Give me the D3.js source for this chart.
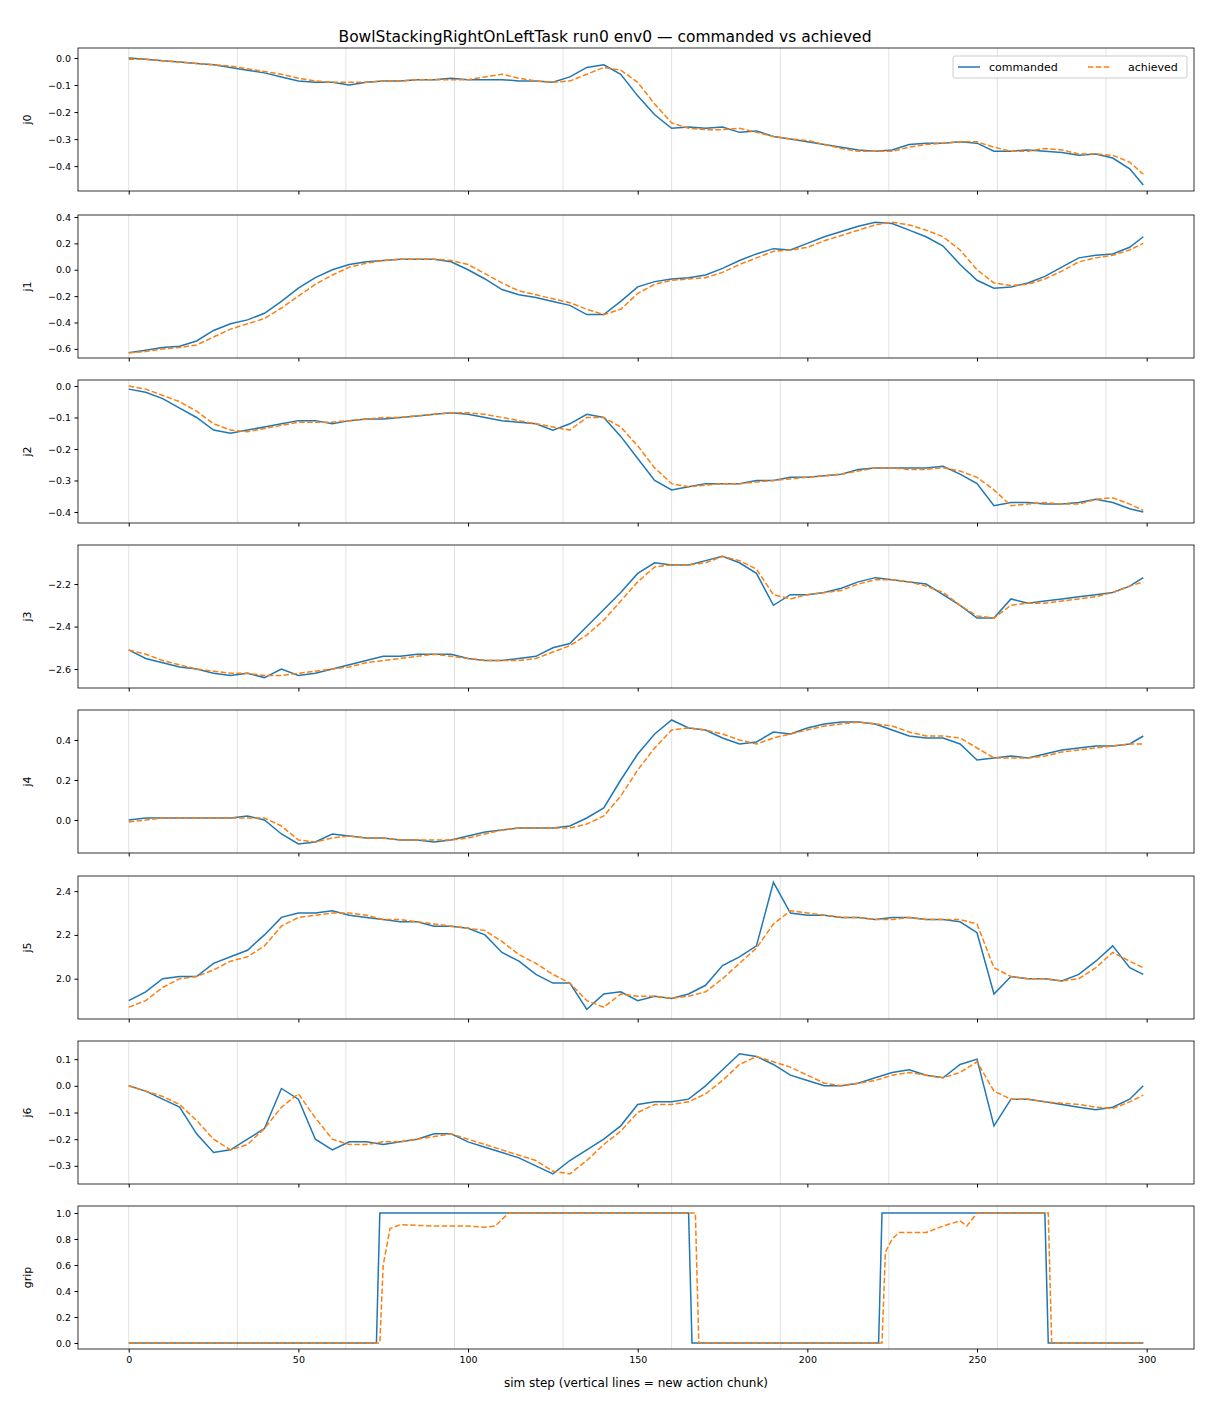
<!DOCTYPE html>
<html>
<head>
<meta charset="utf-8">
<script src="https://cdn.jsdelivr.net/npm/d3@7"></script>
<style>
  body { margin: 0; background: #fff; }
  text { font-family: "DejaVu Sans", sans-serif; }
</style>
</head>
<body>
<svg id="chart"></svg>
<script>
// sampled sim steps (every 5 steps) for the joint panels
let steps = [0,5,10,15,20,25,30,35,40,45,50,55,60,65,70,75,80,85,90,95,100,105,110,115,120,125,130,135,140,145,150,155,160,165,170,175,180,185,190,195,200,205,210,215,220,225,230,235,240,245,250,255,260,265,270,275,280,285,290,295,299];

let j0Cmd = [0,-0.005,-0.01,-0.015,-0.02,-0.025,-0.035,-0.045,-0.055,-0.07,-0.085,-0.09,-0.09,-0.1,-0.09,-0.085,-0.085,-0.08,-0.08,-0.075,-0.08,-0.08,-0.08,-0.085,-0.085,-0.09,-0.07,-0.035,-0.025,-0.06,-0.14,-0.21,-0.26,-0.255,-0.26,-0.255,-0.275,-0.27,-0.29,-0.3,-0.31,-0.32,-0.33,-0.34,-0.345,-0.34,-0.32,-0.315,-0.315,-0.31,-0.315,-0.345,-0.345,-0.34,-0.345,-0.35,-0.36,-0.355,-0.37,-0.41,-0.47];
let j0Ach = [-0.005,-0.005,-0.01,-0.015,-0.02,-0.025,-0.03,-0.04,-0.05,-0.06,-0.075,-0.085,-0.09,-0.09,-0.09,-0.085,-0.085,-0.08,-0.08,-0.08,-0.08,-0.07,-0.06,-0.075,-0.085,-0.09,-0.085,-0.06,-0.035,-0.045,-0.09,-0.17,-0.24,-0.26,-0.265,-0.265,-0.26,-0.275,-0.29,-0.3,-0.305,-0.32,-0.335,-0.345,-0.345,-0.345,-0.33,-0.32,-0.315,-0.31,-0.31,-0.33,-0.345,-0.345,-0.335,-0.34,-0.355,-0.355,-0.36,-0.385,-0.43];

let j1Cmd = [-0.63,-0.61,-0.59,-0.58,-0.54,-0.46,-0.41,-0.38,-0.33,-0.24,-0.14,-0.06,0,0.04,0.06,0.07,0.08,0.08,0.08,0.06,0,-0.07,-0.15,-0.19,-0.21,-0.24,-0.27,-0.34,-0.34,-0.24,-0.13,-0.09,-0.07,-0.06,-0.04,0.01,0.07,0.12,0.16,0.15,0.2,0.25,0.29,0.33,0.36,0.35,0.3,0.25,0.18,0.04,-0.08,-0.14,-0.13,-0.1,-0.05,0.02,0.09,0.11,0.12,0.17,0.25];
let j1Ach = [-0.63,-0.62,-0.6,-0.59,-0.57,-0.51,-0.45,-0.41,-0.37,-0.29,-0.2,-0.11,-0.04,0.02,0.05,0.07,0.08,0.08,0.08,0.07,0.04,-0.03,-0.1,-0.16,-0.19,-0.22,-0.25,-0.3,-0.34,-0.3,-0.18,-0.11,-0.08,-0.07,-0.06,-0.02,0.04,0.09,0.14,0.15,0.17,0.22,0.26,0.3,0.34,0.36,0.34,0.3,0.25,0.15,0,-0.1,-0.12,-0.11,-0.07,-0.01,0.06,0.09,0.11,0.15,0.2];

let j2Cmd = [-0.01,-0.02,-0.04,-0.07,-0.1,-0.14,-0.15,-0.14,-0.13,-0.12,-0.11,-0.11,-0.12,-0.11,-0.105,-0.105,-0.1,-0.095,-0.09,-0.085,-0.09,-0.1,-0.11,-0.115,-0.12,-0.14,-0.12,-0.09,-0.1,-0.16,-0.23,-0.3,-0.33,-0.32,-0.31,-0.31,-0.31,-0.3,-0.3,-0.29,-0.29,-0.285,-0.28,-0.265,-0.26,-0.26,-0.26,-0.26,-0.255,-0.28,-0.31,-0.38,-0.37,-0.37,-0.375,-0.375,-0.37,-0.36,-0.37,-0.39,-0.4];
let j2Ach = [0,-0.01,-0.03,-0.05,-0.08,-0.12,-0.14,-0.145,-0.135,-0.125,-0.115,-0.115,-0.115,-0.11,-0.105,-0.1,-0.1,-0.095,-0.09,-0.085,-0.085,-0.09,-0.1,-0.11,-0.12,-0.13,-0.14,-0.1,-0.1,-0.13,-0.19,-0.26,-0.31,-0.32,-0.315,-0.31,-0.31,-0.305,-0.3,-0.295,-0.29,-0.285,-0.28,-0.27,-0.26,-0.26,-0.265,-0.265,-0.26,-0.27,-0.29,-0.33,-0.38,-0.375,-0.37,-0.375,-0.375,-0.36,-0.355,-0.375,-0.395];

let j3Cmd = [-2.51,-2.55,-2.57,-2.59,-2.6,-2.62,-2.63,-2.62,-2.64,-2.6,-2.63,-2.62,-2.6,-2.58,-2.56,-2.54,-2.54,-2.53,-2.53,-2.53,-2.55,-2.56,-2.56,-2.55,-2.54,-2.5,-2.48,-2.4,-2.32,-2.24,-2.15,-2.1,-2.11,-2.11,-2.09,-2.07,-2.1,-2.15,-2.3,-2.25,-2.25,-2.24,-2.22,-2.19,-2.17,-2.18,-2.19,-2.2,-2.25,-2.3,-2.36,-2.36,-2.27,-2.29,-2.28,-2.27,-2.26,-2.25,-2.24,-2.21,-2.17];
let j3Ach = [-2.51,-2.53,-2.56,-2.58,-2.6,-2.61,-2.62,-2.62,-2.63,-2.63,-2.62,-2.61,-2.6,-2.59,-2.57,-2.56,-2.55,-2.54,-2.53,-2.54,-2.55,-2.56,-2.56,-2.56,-2.55,-2.52,-2.49,-2.44,-2.37,-2.28,-2.19,-2.12,-2.11,-2.11,-2.1,-2.07,-2.09,-2.13,-2.25,-2.27,-2.25,-2.24,-2.23,-2.2,-2.18,-2.18,-2.19,-2.21,-2.24,-2.3,-2.35,-2.36,-2.3,-2.29,-2.29,-2.28,-2.27,-2.26,-2.24,-2.21,-2.19];

let j4Cmd = [0,0.01,0.01,0.01,0.01,0.01,0.01,0.02,0,-0.07,-0.12,-0.11,-0.07,-0.08,-0.09,-0.09,-0.1,-0.1,-0.11,-0.1,-0.08,-0.06,-0.05,-0.04,-0.04,-0.04,-0.03,0.01,0.06,0.2,0.33,0.43,0.5,0.46,0.45,0.41,0.38,0.39,0.44,0.43,0.46,0.48,0.49,0.49,0.48,0.45,0.42,0.41,0.41,0.38,0.3,0.31,0.32,0.31,0.33,0.35,0.36,0.37,0.37,0.38,0.42];
let j4Ach = [-0.01,0,0.01,0.01,0.01,0.01,0.01,0.01,0.01,-0.03,-0.1,-0.11,-0.09,-0.08,-0.09,-0.09,-0.1,-0.1,-0.1,-0.1,-0.09,-0.07,-0.05,-0.04,-0.04,-0.04,-0.04,-0.02,0.02,0.12,0.25,0.36,0.45,0.46,0.45,0.43,0.4,0.38,0.41,0.43,0.45,0.47,0.48,0.49,0.48,0.47,0.44,0.42,0.42,0.41,0.36,0.31,0.31,0.31,0.32,0.34,0.35,0.36,0.37,0.38,0.38];

let j5Cmd = [1.9,1.94,2,2.01,2.01,2.07,2.1,2.13,2.2,2.28,2.3,2.3,2.31,2.29,2.28,2.27,2.26,2.26,2.24,2.24,2.23,2.2,2.12,2.08,2.02,1.98,1.98,1.86,1.93,1.94,1.9,1.92,1.91,1.93,1.97,2.06,2.1,2.15,2.44,2.3,2.29,2.29,2.28,2.28,2.27,2.28,2.28,2.27,2.27,2.26,2.21,1.93,2.01,2,2,1.99,2.02,2.08,2.15,2.05,2.02];
let j5Ach = [1.87,1.9,1.96,2,2.01,2.04,2.08,2.1,2.15,2.24,2.28,2.29,2.3,2.3,2.29,2.27,2.27,2.26,2.25,2.24,2.23,2.22,2.17,2.11,2.07,2.02,1.98,1.9,1.87,1.93,1.92,1.92,1.91,1.92,1.94,2,2.07,2.14,2.25,2.31,2.3,2.29,2.28,2.28,2.27,2.27,2.28,2.27,2.27,2.27,2.25,2.05,2.01,2,2,1.99,2,2.05,2.12,2.08,2.05];

let j6Cmd = [0,-0.02,-0.05,-0.08,-0.18,-0.25,-0.24,-0.2,-0.16,-0.01,-0.05,-0.2,-0.24,-0.21,-0.21,-0.22,-0.21,-0.2,-0.18,-0.18,-0.21,-0.23,-0.25,-0.27,-0.3,-0.33,-0.28,-0.24,-0.2,-0.15,-0.07,-0.06,-0.06,-0.05,0,0.06,0.12,0.11,0.08,0.04,0.02,0,0,0.01,0.03,0.05,0.06,0.04,0.03,0.08,0.1,-0.15,-0.05,-0.05,-0.06,-0.07,-0.08,-0.09,-0.08,-0.05,0];
let j6Ach = [0,-0.02,-0.04,-0.07,-0.13,-0.2,-0.24,-0.22,-0.16,-0.08,-0.03,-0.12,-0.2,-0.22,-0.22,-0.21,-0.21,-0.2,-0.19,-0.18,-0.2,-0.22,-0.24,-0.26,-0.28,-0.32,-0.33,-0.28,-0.22,-0.17,-0.1,-0.07,-0.07,-0.06,-0.03,0.02,0.08,0.11,0.09,0.07,0.04,0.01,0,0.01,0.02,0.04,0.05,0.04,0.03,0.05,0.09,-0.02,-0.05,-0.05,-0.06,-0.065,-0.07,-0.08,-0.085,-0.06,-0.035];

// gripper has its own steps (it is a step signal)
let gripCmdSteps = [0,73,74,165,166,221,222,270,271,299];
let gripCmd = [0,0,1,1,0,0,1,1,0,0];
let gripAchSteps = [0,74,75,77,80,90,100,105,108,110,112,167,168,222,223,225,227,235,240,245,247,250,271,272,299];
let gripAch = [0,0,0.6,0.88,0.91,0.9,0.9,0.89,0.9,0.95,1,1,0,0,0.7,0.8,0.85,0.85,0.9,0.94,0.9,1,1,0,0];

let panels = [
  {name: 'j0', xs: steps, cmd: j0Cmd, xa: steps, ach: j0Ach, dom: [-0.492, 0.037], ticks: [-0.4,-0.3,-0.2,-0.1,0]},
  {name: 'j1', xs: steps, cmd: j1Cmd, xa: steps, ach: j1Ach, dom: [-0.669, 0.415], ticks: [-0.6,-0.4,-0.2,0,0.2,0.4]},
  {name: 'j2', xs: steps, cmd: j2Cmd, xa: steps, ach: j2Ach, dom: [-0.435, 0.019], ticks: [-0.4,-0.3,-0.2,-0.1,0]},
  {name: 'j3', xs: steps, cmd: j3Cmd, xa: steps, ach: j3Ach, dom: [-2.689, -2.0165], ticks: [-2.6,-2.4,-2.2]},
  {name: 'j4', xs: steps, cmd: j4Cmd, xa: steps, ach: j4Ach, dom: [-0.165, 0.55], ticks: [0,0.2,0.4]},
  {name: 'j5', xs: steps, cmd: j5Cmd, xa: steps, ach: j5Ach, dom: [1.816, 2.469], ticks: [2.0,2.2,2.4]},
  {name: 'j6', xs: steps, cmd: j6Cmd, xa: steps, ach: j6Ach, dom: [-0.368, 0.168], ticks: [-0.3,-0.2,-0.1,0,0.1]},
  {name: 'grip', xs: gripCmdSteps, cmd: gripCmd, xa: gripAchSteps, ach: gripAch, dom: [-0.046, 1.054], ticks: [0,0.2,0.4,0.6,0.8,1.0]}
];
let chunkStarts = [0,32,64,96,128,160,192,224,256,288];
let xTicks = [0,50,100,150,200,250,300];

let width = 1210, height = 1408;
let left = 78, right = 1194;
let tops = [48,215,380,545,710,876,1041,1206];
let panelH = 143;

let svg = d3.select('#chart').attr('width', width).attr('height', height);

let x = d3.scaleLinear().domain([-14.95, 313.95]).range([left, right]);

svg.append('text')
  .attr('x', 605).attr('y', 42)
  .attr('text-anchor', 'middle')
  .attr('font-size', 15.5)
  .text('BowlStackingRightOnLeftTask run0 env0 \u2014 commanded vs achieved');

panels.forEach(function(p, i) {
  let top = tops[i];
  let y = d3.scaleLinear().domain(p.dom).range([top + panelH, top]);
  let g = svg.append('g');

  // action chunk boundaries
  g.selectAll('line.chunk')
    .data(chunkStarts)
    .enter()
    .append('line')
    .attr('x1', d => x(d)).attr('x2', d => x(d))
    .attr('y1', top).attr('y2', top + panelH)
    .attr('stroke', '#d9d9d9').attr('stroke-width', 0.8);

  let line = d3.line().x(d => x(d[0])).y(d => y(d[1]));

  g.append('path')
    .attr('d', line(p.xs.map((s, k) => [s, p.cmd[k]])))
    .attr('fill', 'none').attr('stroke', '#1f77b4').attr('stroke-width', 1.5);

  g.append('path')
    .attr('d', line(p.xa.map((s, k) => [s, p.ach[k]])))
    .attr('fill', 'none').attr('stroke', '#ff7f0e').attr('stroke-width', 1.5)
    .attr('stroke-dasharray', '5.5,2.4');

  let yAxis = d3.axisLeft(y).tickValues(p.ticks).tickFormat(d3.format('.1f')).tickSize(3.5).tickPadding(3.5);
  g.append('g').attr('transform', 'translate(' + left + ',0)').call(yAxis)
    .call(a => a.select('.domain').remove())
    .selectAll('text').attr('font-size', 9.5).attr('font-family', 'DejaVu Sans');

  let xAxis = d3.axisBottom(x).tickValues(xTicks).tickSize(3.5).tickPadding(3.5);
  if (i < panels.length - 1) xAxis.tickFormat('');
  g.append('g').attr('transform', 'translate(0,' + (top + panelH) + ')').call(xAxis)
    .call(a => a.select('.domain').remove())
    .selectAll('text').attr('font-size', 9.5).attr('font-family', 'DejaVu Sans');

  g.append('rect')
    .attr('x', left).attr('y', top)
    .attr('width', right - left).attr('height', panelH)
    .attr('fill', 'none').attr('stroke', '#000').attr('stroke-width', 0.8);

  g.append('text')
    .attr('transform', 'translate(31,' + (top + panelH / 2) + ') rotate(-90)')
    .attr('text-anchor', 'middle')
    .attr('font-size', 11)
    .text(p.name);
});

// legend in first panel
let lg = svg.append('g').attr('transform', 'translate(953,56)');
lg.append('rect').attr('width', 234).attr('height', 22).attr('rx', 2)
  .attr('fill', '#fff').attr('fill-opacity', 0.8).attr('stroke', '#ccc');
lg.append('line').attr('x1', 5).attr('x2', 27).attr('y1', 11).attr('y2', 11)
  .attr('stroke', '#1f77b4').attr('stroke-width', 1.5);
lg.append('text').attr('x', 36).attr('y', 15).attr('font-size', 11).text('commanded');
lg.append('line').attr('x1', 135).attr('x2', 157).attr('y1', 11).attr('y2', 11)
  .attr('stroke', '#ff7f0e').attr('stroke-width', 1.5).attr('stroke-dasharray', '5.5,2.4');
lg.append('text').attr('x', 175).attr('y', 15).attr('font-size', 11).text('achieved');

svg.append('text')
  .attr('x', 636).attr('y', 1387)
  .attr('text-anchor', 'middle')
  .attr('font-size', 12)
  .text('sim step (vertical lines = new action chunk)');
</script>
</body>
</html>
